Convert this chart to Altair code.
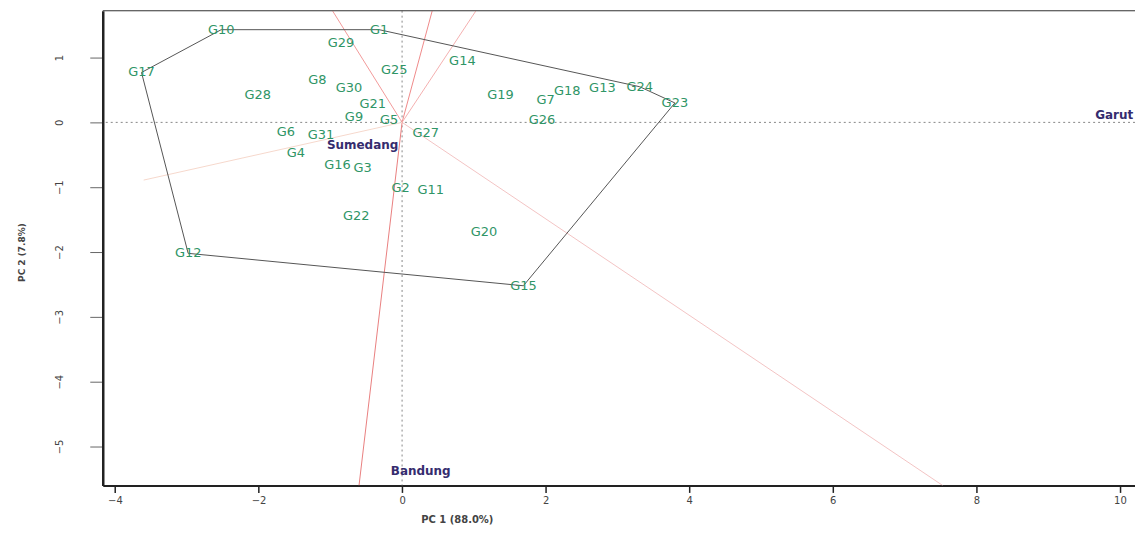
import altair as alt
import pandas as pd

# ---- data ----
geno_names = ["G1", "G2", "G3", "G4", "G5", "G6", "G7", "G8", "G9", "G10",
              "G11", "G12", "G13", "G14", "G15", "G16", "G17", "G18", "G19", "G20",
              "G21", "G22", "G23", "G24", "G25", "G26", "G27", "G28", "G29", "G30", "G31"]
geno_pc1 = [-0.32, -0.02, -0.55, -1.48, -0.18, -1.62, 2.00, -1.18, -0.67, -2.52,
            0.40, -2.98, 2.79, 0.84, 1.69, -0.90, -3.63, 2.30, 1.37, 1.14,
            -0.41, -0.64, 3.80, 3.31, -0.11, 1.95, 0.33, -2.01, -0.85, -0.74, -1.13]
geno_pc2 = [1.43, -1.01, -0.71, -0.48, 0.04, -0.15, 0.35, 0.65, 0.08, 1.43,
            -1.04, -2.02, 0.53, 0.94, -2.52, -0.65, 0.77, 0.49, 0.42, -1.69,
            0.28, -1.45, 0.30, 0.55, 0.81, 0.04, -0.17, 0.42, 1.22, 0.53, -0.20]

env_names = ["Garut", "Bandung", "Sumedang"]
env_pc1 = [9.92, 0.26, -0.55]
env_pc2 = [0.11, -5.38, -0.35]

hull_order = ["G17", "G10", "G1", "G24", "G23", "G15", "G12", "G17"]

ray_ids = ["r1", "r2", "r3", "r4", "r5", "r6"]
ray_end_pc1 = [-0.97, 0.42, 1.03, 7.53, -0.60, -3.60]
ray_end_pc2 = [1.723, 1.723, 1.723, -5.60, -5.60, -0.89]
ray_colors = ["#f29a9a", "#ef8a8a", "#f4b0b0", "#f3c4c4", "#e98080", "#f6d8cc"]

x_ticks = [-4, -2, 0, 2, 4, 6, 8, 10]
y_ticks = [1, 0, -1, -2, -3, -4, -5]
x_domain = [-4.17, 10.21]
y_domain = [-5.60, 1.723]

W, H = 1035, 476

# ---- tables ----
pts = pd.DataFrame({"name": geno_names, "x": geno_pc1, "y": geno_pc2})
env = pd.DataFrame({"name": env_names, "x": env_pc1, "y": env_pc2})
lookup = dict(zip(geno_names, zip(geno_pc1, geno_pc2)))
hull = pd.DataFrame({"o": list(range(len(hull_order))),
                     "x": [lookup[g][0] for g in hull_order],
                     "y": [lookup[g][1] for g in hull_order]})
ray_rows = []
for rid, ex, ey, c in zip(ray_ids, ray_end_pc1, ray_end_pc2, ray_colors):
    ray_rows.append({"id": rid, "o": 0, "x": 0.0, "y": 0.0, "col": c})
    ray_rows.append({"id": rid, "o": 1, "x": ex, "y": ey, "col": c})
rays = pd.DataFrame(ray_rows)

xs = alt.Scale(domain=x_domain, nice=False, zero=False)
ys = alt.Scale(domain=y_domain, nice=False, zero=False)

x_axis = alt.Axis(values=x_ticks, title="PC 1 (88.0%)", grid=False,
                  domainColor="#222", domainWidth=2, tickColor="#222", tickWidth=1.5,
                  tickSize=7, labelPadding=3, labelFontSize=10, labelColor="#444",
                  labelFont="DejaVu Sans", titleFont="DejaVu Sans", titleFontSize=10,
                  titleFontWeight="bold", titleColor="#444", titleX=355, titleY=34,
                  titleBaseline="middle", titleAnchor="start", titleAlign="center")
y_axis = alt.Axis(values=y_ticks, title="PC 2 (7.8%)", grid=False,
                  domainColor="#222", domainWidth=2.5, tickColor="#666", tickWidth=1,
                  tickSize=13, labelAngle=270, labelAlign="center", labelBaseline="bottom",
                  labelPadding=25, labelFontSize=10, labelColor="#444",
                  labelFont="DejaVu Sans", titleFont="DejaVu Sans", titleFontSize=9,
                  titleFontWeight="bold", titleColor="#444", titleX=-81, titleY=242,
                  titleAnchor="start", titleAlign="center", titleBaseline="middle")

X = alt.X("x:Q", scale=xs, axis=x_axis)
Y = alt.Y("y:Q", scale=ys, axis=y_axis)

zero_v = alt.Chart(pd.DataFrame({"x": [0.0]})).mark_rule(
    color="#888", strokeDash=[2, 3], strokeWidth=1).encode(x=X)
zero_h = alt.Chart(pd.DataFrame({"y": [0.0]})).mark_rule(
    color="#888", strokeDash=[2, 3], strokeWidth=1).encode(y=Y)

ray_layer = alt.Chart(rays).mark_line(strokeWidth=1, clip=True).encode(
    x=X, y=Y, detail="id:N", order="o:Q", color=alt.Color("col:N", scale=None))

hull_layer = alt.Chart(hull).mark_line(color="#555", strokeWidth=1).encode(
    x=X, y=Y, order="o:Q")

geno_layer = alt.Chart(pts).mark_text(
    font="DejaVu Sans", fontSize=13, color="#2f9566", align="center", baseline="middle"
).encode(x=X, y=Y, text="name:N")

env_layer = alt.Chart(env).mark_text(
    font="DejaVu Sans", fontSize=12, fontWeight="bold", color="#352c6e",
    align="center", baseline="middle"
).encode(x=X, y=Y, text="name:N")

top_frame = alt.Chart(pd.DataFrame({"x": [0.0]})).mark_rule(
    color="#444", strokeWidth=1).encode(x=alt.value(0), x2=alt.value(W), y=alt.value(0))

chart = alt.layer(zero_v, zero_h, ray_layer, hull_layer, geno_layer, env_layer, top_frame).properties(
    width=W, height=H,
    autosize=alt.AutoSizeParams(type="none"),
    padding={"left": 95, "top": 2, "right": 0, "bottom": 45},
).configure_view(stroke=None).configure(background="white")

chart.save("out.html", embed_options={"renderer": "svg", "actions": False})
